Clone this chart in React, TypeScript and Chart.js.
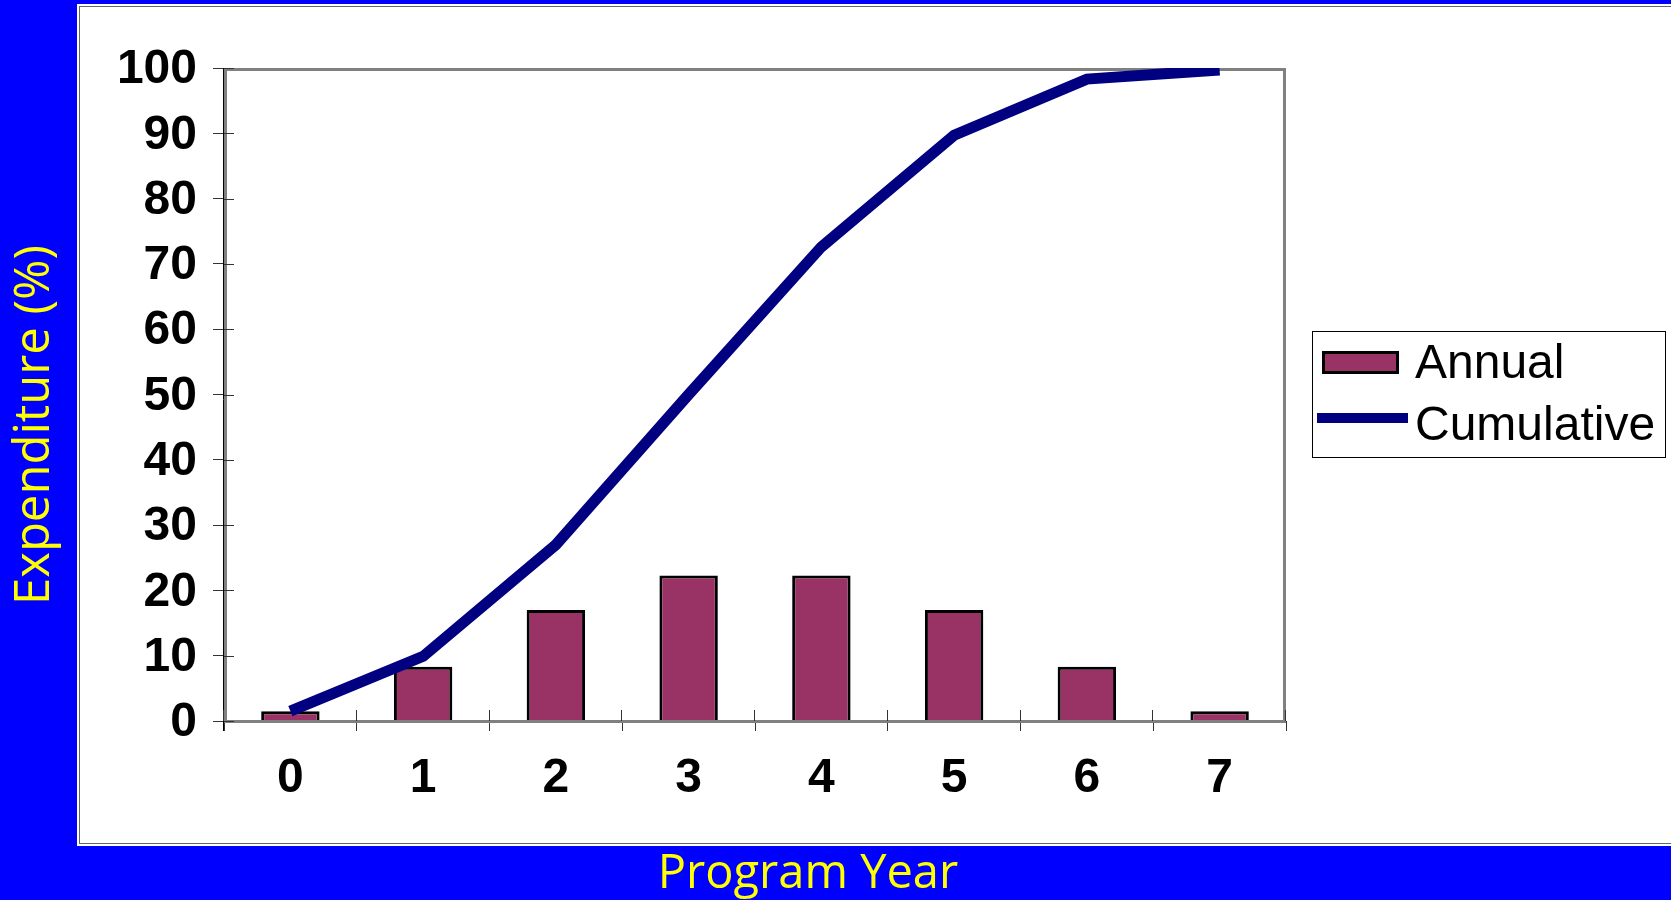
import React, { useEffect, useRef } from 'react';
import { Chart, registerables } from 'chart.js';

Chart.register(...registerables);

// ---- data ----
const programYears = ['0', '1', '2', '3', '4', '5', '6', '7'];
const annualValues = [1.5, 8.3, 17, 22.3, 22.3, 17, 8.3, 1.5];
const cumulativeValues = [1.5, 9.9, 27, 50, 72.6, 89.7, 98.3, 99.7];
const seriesNames = ['Annual', 'Cumulative'];
const yAxisMin = 0;
const yAxisMax = 100;
const yAxisStep = 10;
const xAxisTitle = 'Program Year';
const yAxisTitle = 'Expenditure (%)';

// ---- styles ----
const BLUE = '#0000FF';
const BAR_FILL = '#993366';
const LINE_COLOR = '#000080';
const TITLE_COLOR = '#FFFF00';
const TICK_FONT = { family: '"Liberation Sans", Arial, Helvetica, sans-serif', size: 48, weight: 'bold' as const, lineHeight: 1.2 };
const X_TITLE_FONT = '47px "Comic Sans MS", "Open Sans", sans-serif';
const Y_TITLE_FONT = '49px "Comic Sans MS", "Open Sans", sans-serif';
const LEGEND_FONT = '48px "Liberation Sans", Arial, Helvetica, sans-serif';

const decorPlugin = {
  id: 'decor',
  beforeDraw(chart: any) {
    const { ctx, width, height } = chart;
    ctx.save();
    ctx.fillStyle = BLUE;
    ctx.fillRect(0, 0, width, height);
    ctx.fillStyle = '#FFFFFF';
    ctx.fillRect(77, 4, width - 77, 842);
    ctx.strokeStyle = '#666666';
    ctx.lineWidth = 1;
    ctx.strokeRect(79.5, 6.5, width, 837);
    ctx.restore();
  },
  afterDatasetDraw(chart: any, args: any) {
    if (args.index !== 0) return;
    const { ctx, chartArea: a } = chart;
    const xScale = chart.scales.x;
    const yScale = chart.scales.y;
    ctx.save();
    // plot frame
    ctx.strokeStyle = '#808080';
    ctx.lineWidth = 3;
    ctx.beginPath();
    ctx.moveTo(a.left + 1.5, a.bottom + 0.5);
    ctx.lineTo(a.left + 1.5, a.top + 1.5);
    ctx.lineTo(a.right - 1.5, a.top + 1.5);
    ctx.lineTo(a.right - 1.5, a.bottom + 0.5);
    ctx.closePath();
    ctx.stroke();
    // black axis line on the left
    ctx.strokeStyle = '#000000';
    ctx.lineWidth = 1;
    ctx.beginPath();
    ctx.moveTo(a.left - 0.5, a.top);
    ctx.lineTo(a.left - 0.5, a.bottom + 10);
    ctx.stroke();
    // inner parts of tick marks
    ctx.strokeStyle = '#333333';
    ctx.beginPath();
    yScale.ticks.forEach((t: any) => {
      const py = Math.round(yScale.getPixelForValue(t.value)) + 0.5;
      ctx.moveTo(a.left, py);
      ctx.lineTo(a.left + 10, py);
    });
    for (let i = 0; i <= programYears.length; i++) {
      const px = Math.round(xScale.getPixelForValue(i - 0.5)) - 0.5;
      ctx.moveTo(px, a.bottom);
      ctx.lineTo(px, a.bottom - 11);
    }
    ctx.stroke();
    ctx.restore();
  },
  afterDraw(chart: any) {
    const { ctx, chartArea: a } = chart;
    const ds = chart.data.datasets;
    ctx.save();
    // axis titles
    ctx.fillStyle = TITLE_COLOR;
    ctx.textAlign = 'center';
    ctx.textBaseline = 'middle';
    ctx.font = X_TITLE_FONT;
    ctx.fillText(xAxisTitle, 808, 875);
    ctx.font = Y_TITLE_FONT;
    ctx.save();
    ctx.translate(35, 425);
    ctx.rotate(-Math.PI / 2);
    ctx.fillText(yAxisTitle, 0, 0);
    ctx.restore();

    // legend
    const lx = a.right + 26;
    const ly = 331;
    const lw = 353;
    ctx.fillStyle = '#FFFFFF';
    ctx.fillRect(lx, ly, lw, 126);
    ctx.strokeStyle = '#000000';
    ctx.lineWidth = 1;
    ctx.strokeRect(lx + 0.5, ly + 0.5, lw, 126);
    // bar swatch
    ctx.fillStyle = ds[0].backgroundColor;
    ctx.fillRect(lx + 10, ly + 20, 77, 23);
    ctx.strokeStyle = '#000000';
    ctx.lineWidth = 3;
    ctx.strokeRect(lx + 11.5, ly + 21.5, 74, 20);
    // line swatch
    ctx.strokeStyle = ds[1].borderColor;
    ctx.lineWidth = 10;
    ctx.beginPath();
    ctx.moveTo(lx + 5, ly + 87);
    ctx.lineTo(lx + 96, ly + 87);
    ctx.stroke();
    // labels
    ctx.fillStyle = '#000000';
    ctx.font = LEGEND_FONT;
    ctx.textAlign = 'left';
    ctx.textBaseline = 'alphabetic';
    ctx.fillText(ds[0].label, lx + 103, ly + 47);
    ctx.fillText(ds[1].label, lx + 103, ly + 109);
    ctx.restore();
  },
};

export default function App() {
  const canvasRef = useRef<HTMLCanvasElement | null>(null);

  useEffect(() => {
    if (!canvasRef.current) return;
    const chart = new Chart(canvasRef.current, {
      type: 'bar',
      data: {
        labels: programYears,
        datasets: [
          {
            type: 'bar',
            label: seriesNames[0],
            data: annualValues,
            backgroundColor: BAR_FILL,
            borderColor: '#000000',
            borderWidth: 3,
            categoryPercentage: 1,
            barPercentage: 0.44,
            order: 1,
          },
          {
            type: 'line',
            label: seriesNames[1],
            data: cumulativeValues,
            borderColor: LINE_COLOR,
            backgroundColor: LINE_COLOR,
            borderWidth: 11,
            pointRadius: 0,
            tension: 0,
            borderCapStyle: 'butt',
            borderJoinStyle: 'miter',
            order: 0,
          } as any,
        ],
      },
      options: {
        animation: false,
        responsive: false,
        devicePixelRatio: 1,
        layout: { padding: { left: 0, top: 68, right: 1671 - 1286, bottom: 0 } },
        plugins: {
          legend: { display: false },
          tooltip: { enabled: false },
          title: { display: false },
        },
        scales: {
          x: {
            type: 'category',
            offset: true,
            grid: {
              display: true,
              offset: true,
              drawOnChartArea: false,
              drawTicks: true,
              tickLength: 10,
              tickColor: '#333333',
              lineWidth: 1,
            },
            border: { display: false },
            ticks: {
              color: '#000000',
              font: TICK_FONT,
              padding: 19,
              maxRotation: 0,
              autoSkip: false,
            },
            afterFit: (scale: any) => {
              scale.height = 900 - 721;
            },
          },
          y: {
            type: 'linear',
            min: yAxisMin,
            max: yAxisMax,
            grid: {
              display: true,
              drawOnChartArea: false,
              drawTicks: true,
              tickLength: 11,
              tickColor: '#333333',
              lineWidth: 1,
            },
            border: { display: false },
            ticks: {
              stepSize: yAxisStep,
              color: '#000000',
              font: TICK_FONT,
              padding: 16,
              labelOffset: 2,
            },
            afterFit: (scale: any) => {
              scale.width = 224;
            },
          },
        },
      },
      plugins: [decorPlugin],
    });
    return () => chart.destroy();
  }, []);

  return (
    <div style={{ position: 'fixed', left: 0, top: 0, width: 1671, height: 900, background: BLUE }}>
      <canvas ref={canvasRef} width={1671} height={900} style={{ display: 'block', width: 1671, height: 900 }} />
    </div>
  );
}
